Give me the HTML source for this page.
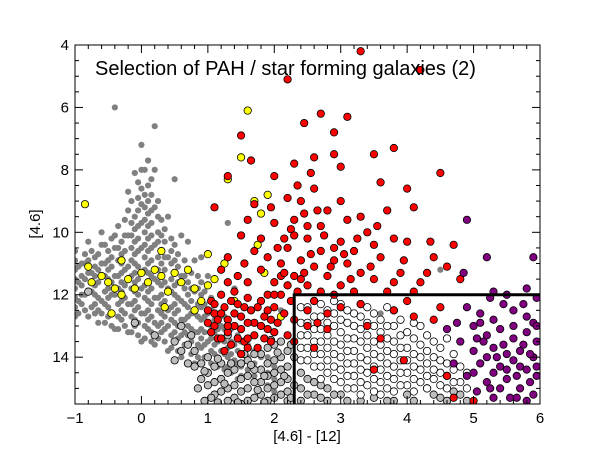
<!DOCTYPE html>
<html><head><meta charset="utf-8"><style>
body{margin:0;background:#fff;}
svg{display:block;font-family:"Liberation Sans","DejaVu Sans",sans-serif;}
</style></head><body>
<svg id="chart" width="600" height="450" viewBox="0 0 600 450" xmlns="http://www.w3.org/2000/svg">
<defs><clipPath id="clip"><rect x="75" y="45" width="465" height="359"/></clipPath></defs>
<g id="marks" clip-path="url(#clip)"></g>
<g id="axes"></g>
<text x="95" y="75" font-size="20">Selection of PAH / star forming galaxies (2)</text>
<text x="307" y="441" font-size="15" text-anchor="middle">[4.6] - [12]</text>
<text x="40" y="224" font-size="15" text-anchor="middle" transform="rotate(-90 40 224)">[4.6]</text>
</svg>
<script>
const xTicks=[-1,0,1,2,3,4,5,6];
const yTicks=[4,6,8,10,12,14];
const grayCols=[[-1,[10.9,11.2,11.5,11.8,12.1,12.4]],[-0.9,[11.0,11.4,11.7,12.0,12.3]],[-0.8,[10.3,11.3,11.9]],[-0.7,[10.8,11.1,11.4,11.7,12.0,12.3,12.6]],[-0.6,[10.0,11.0,12.2]],[-0.5,[10.6,10.9,11.2,11.5,11.8,12.1,12.4,12.7]],[-0.4,[6.0,10.5,11.4,12.0]],[-0.3,[10.3,10.7,11.0,11.3,11.6,11.9,12.2,12.5,12.8]],[-0.2,[9.3,10.1,11.1,12.3]],[-0.1,[8.1,9.5,9.9,10.3,10.7,11.0,11.3,11.6,11.9,12.2,12.5,12.8,13.0]],[0,[7.2,8.6,9.1,9.7,10.5,11.8,12.6]],[0.1,[7.7,8.5,9.0,9.4,9.8,10.2,10.6,11.0,11.3,11.6,11.9,12.2,12.5,12.8,13.1]],[0.2,[6.6,9.2,10.4,11.5,12.1,12.9]],[0.3,[9.6,10.1,10.6,11.0,11.4,11.7,12.0,12.3,12.6,12.9,13.2]],[0.4,[10.8,11.8,12.5,13.0]],[0.5,[8.3,10.4,10.9,11.3,11.7,12.0,12.3,12.6,12.9,13.2,13.5]],[0.6,[11.4,12.2,12.8,13.3]],[0.7,[10.3,11.2,11.6,12.0,12.4,12.7,13.0,13.3,13.6]],[0.8,[11.9,12.6,13.2]],[0.9,[10.8,11.6,12.0,12.4,12.8,13.1,13.4,13.7]],[1.0,[11.4,12.6,13.5]],[1.1,[12.3,12.8,13.2,13.6,13.9]],[1.2,[13.0,13.8]],[1.3,[9.7,12.8,13.3,13.7,14.0,14.3]],[1.4,[11.8,13.6,14.1]],[1.5,[13.5,13.9,14.3,14.6]],[1.7,[13.8,14.2,14.6]],[1.9,[14.0,14.5,14.9]],[2.1,[12.5]],[3.6,[12.6]],[4.5,[11.2]],
[-0.95,[11.1,11.6,12.2,12.6]],[-0.85,[10.7,11.0,11.5,12.0,12.5]],[-0.75,[10.6,11.3,11.9,12.4]],[-0.65,[10.7,11.2,11.6,12.1,12.5,12.9]],[-0.55,[10.4,11.0,11.4,11.9,12.3,12.9]],[-0.45,[10.2,10.8,11.1,11.6,12.0,12.6,13.0]],[-0.35,[9.8,10.5,10.9,11.4,11.8,12.3,12.7,13.1]],[-0.25,[9.6,10.1,10.6,11.2,11.7,12.1,12.6,13.0]],[-0.15,[9.0,9.7,10.1,10.5,10.9,11.4,11.8,12.3,12.7,13.2]],[-0.05,[8.4,8.9,9.3,9.8,10.2,10.6,11.1,11.5,12.0,12.4,12.9,13.3]],[0.05,[8.0,8.8,9.2,9.6,10.0,10.4,10.8,11.2,11.7,12.1,12.6,13.0,13.4]],[0.15,[8.3,8.8,9.3,9.7,10.1,10.5,10.9,11.4,11.8,12.3,12.7,13.2,13.5]],[0.25,[9.0,9.5,10.0,10.3,10.8,11.2,11.6,12.1,12.5,13.0,13.4]],[0.35,[9.9,10.3,10.8,11.2,11.6,12.2,12.7,13.1,13.5]],[0.45,[10.2,10.6,11.0,11.5,11.9,12.4,12.8,13.3,13.7]],[0.55,[10.7,11.1,11.6,12.1,12.5,13.0,13.4,13.8]],[0.65,[10.9,11.4,11.8,12.3,12.8,13.2,13.6]],[0.75,[11.3,11.8,12.2,12.6,13.1,13.5,13.9]],[0.85,[11.4,11.8,12.3,12.7,13.2,13.6,14.0]],[0.95,[11.9,12.3,12.7,13.2,13.6,14.0]],[1.05,[12.1,12.5,13.0,13.4,13.8,14.2]],[1.15,[12.6,13.1,13.5,14.0,14.3]],[1.25,[12.7,13.1,13.5,13.9,14.4]],[1.35,[13.1,13.5,13.9,14.5]],[1.45,[13.3,13.8,14.2,14.7]],[1.6,[13.6,14.0,14.4]],[1.8,[14.0,14.4,14.8]],[2.0,[14.3,14.7,15.1]],
[-1,[10.6,12.7]],[-0.8,[10.9,12.7]],[-0.6,[10.4,12.6]],[-0.4,[10.1,13.1]],[-0.2,[8.7,13.2]],[0,[8.0,13.5]],[0.2,[8.0,13.6]],[0.4,[9.5,13.8]],[0.6,[10.1,14.0]],[0.8,[10.9,14.2]]];
const ltGrayPts=[[-0.8,11.9],[-0.1,12.9],[0.2,13.3],[0.6,13.0],[0.75,13.3],[0.5,13.5],[0.5,14.1],[0.8,13.8],[0.8,14.3],[1.0,14.0],[1.0,14.5],[1.0,14.9],[1.2,14.2],[1.2,14.7],[1.2,15.1],[1.3,13.3],[1.4,14.4],[1.4,14.9],[1.4,15.3],[1.6,14.1],[1.6,14.6],[1.6,15.0],[1.6,15.4],[1.8,13.9],[1.8,14.4],[1.8,14.8],[1.8,15.2],[2.0,13.6],[2.0,14.1],[2.0,14.5],[2.0,14.9],[2.0,15.3],[2.2,13.8],[2.2,14.3],[2.2,14.7],[2.2,15.1],[2.2,15.4],[2.4,14.5],[2.4,15.0],[2.4,15.4],[2.6,14.8],[2.6,15.2],[2.8,15.0],[2.8,15.4],[3.0,15.2],[3.3,15.4],[3.5,15.3],[3.8,15.4],[4.0,15.2],[4.3,15.0],[4.5,15.3],[4.7,15.1],
[0.6,13.8],[0.7,13.6],[0.7,14.2],[0.9,14.2],[0.9,14.7],[1.1,14.3],[1.1,14.8],[1.1,15.2],[1.3,14.5],[1.3,15.0],[1.3,15.4],[1.5,14.2],[1.5,14.7],[1.5,15.1],[1.5,15.5],[1.7,13.9],[1.7,14.4],[1.7,14.8],[1.7,15.3],[1.9,13.7],[1.9,14.2],[1.9,14.6],[1.9,15.0],[1.9,15.4],[2.1,13.5],[2.1,14.0],[2.1,14.4],[2.1,14.8],[2.1,15.2],[2.3,14.0],[2.3,14.9],[2.5,14.7],[2.5,15.2],[2.7,14.9],[2.7,15.3],[2.9,15.2],[3.1,15.4],[3.7,15.4],[4.1,15.4],[4.4,15.2],[4.6,15.4],[4.8,15.2],[4.9,15.4],
[0.95,14.45],[1.05,15.3],[1.15,14.05],[1.25,14.85],[1.35,14.2],[1.45,15.45],[1.55,13.9],[1.65,14.25],[1.75,15.05],[1.85,14.6],[1.95,13.45],[2.05,13.85],[2.15,14.6],[2.25,13.6],[2.25,15.3],[1.85,15.45],[0.85,15.0],[0.95,15.4],[1.15,15.45]];
const whiteCols=[[2.4,[12.4,12.9,13.3,13.7,14.1]],[2.6,[12.2,12.7,13.1,13.5,13.9,14.3]],[2.8,[12.5,12.9,13.3,13.7,14.1,14.5]],[3.0,[12.3,12.8,13.2,13.6,14.0,14.4,14.8]],[3.2,[12.6,13.0,13.4,13.8,14.2,14.6,15.0]],[3.4,[12.4,12.9,13.3,13.7,14.1,14.5,14.9]],[3.6,[12.8,13.2,13.6,14.0,14.4,14.8,15.2]],[3.8,[12.5,13.0,13.5,13.9,14.3,14.7,15.1]],[4.0,[13.2,13.7,14.1,14.5,14.9]],[4.2,[13.0,13.6,14.0,14.4,14.8]],[4.4,[13.5,14.0,14.4,14.7]],[4.6,[13.4,14.2,14.6,15.0]],[4.8,[14.3,14.8]],
[2.5,[12.4,12.9,13.3,13.7,14.1]],[2.7,[12.3,12.7,13.1,13.5,13.9,14.3,14.7]],[2.9,[12.2,12.6,13.0,13.5,13.9,14.3,14.7]],[3.1,[12.5,12.9,13.4,13.8,14.2,14.6,15.0]],[3.3,[12.3,12.7,13.1,13.5,14.0,14.4,14.8,15.2]],[3.5,[12.6,13.0,13.5,13.9,14.3,14.7,15.1]],[3.7,[12.4,13.0,13.4,13.8,14.2,14.6,15.0]],[3.9,[12.8,13.3,13.7,14.1,14.5,14.9]],[4.1,[12.9,13.4,13.9,14.3,14.7,15.1]],[4.3,[13.3,13.8,14.2,14.6,15.0]],[4.5,[13.7,14.1,14.5,14.9]],[4.7,[13.9,14.4,14.8]],[4.9,[14.5,15.0]]];
const yellowPts=[[-0.85,9.1],[-0.75,11.6],[-0.8,11.1],[-0.6,11.4],[-0.4,11.8],[-0.5,11.6],[-0.3,12.0],[-0.2,11.5],[-0.1,11.8],[0,11.3],[0.1,11.6],[0.2,11.2],[0.3,11.4],[0.4,11.9],[0.5,11.3],[0.6,11.6],[0.7,11.2],[0.8,11.8],[0.9,12.2],[1.0,11.7],[1.1,11.5],[-0.3,10.9],[0.3,10.6],[1.0,10.7],[1.3,8.3],[1.6,6.1],[1.5,7.6],[1.8,9.4],[1.7,9.0],[1.75,10.4],[1.9,8.8],[1.85,11.3],[2.1,12.7],[1.4,12.2],[1.25,11.0],[-0.45,12.6],[0.35,12.4],[0.8,12.5]];
const redPts=[[1.05,12.2],[1.1,12.6],[1.1,13.0],[1.15,13.4],[1.25,12.4],[1.3,12.8],[1.3,13.2],[1.35,13.6],[1.45,12.3],[1.5,12.7],[1.5,13.1],[1.55,13.5],[1.65,12.5],[1.7,12.9],[1.7,13.3],[1.8,12.2],[1.85,12.7],[1.9,13.1],[1.95,13.5],[2.0,12.4],[2.05,12.9],[1.2,12.0],[1.4,11.9],[1.6,12.1],[1.0,12.9],[2.2,13.3],[1.75,13.7],[2.15,12.6],[1.6,11.6],[1.8,11.2],[2.0,11.6],[2.1,11.0],[2.2,10.5],[2.3,11.4],[2.4,10.9],[2.5,10.2],[2.5,11.7],[2.6,11.1],[2.7,10.6],[2.7,9.8],[2.8,11.4],[2.9,10.9],[3.0,10.3],[3.0,11.7],[3.1,11.0],[3.2,10.6],[3.3,11.3],[3.4,10.0],[3.5,11.5],[3.6,10.8],[2.3,9.6],[2.4,9.0],[2.6,8.6],[2.2,8.9],[2.0,9.7],[1.8,10.2],[1.9,10.8],[2.1,12.0],[2.35,11.9],[2.6,12.2],[2.9,12.0],[3.2,11.9],[2.45,9.4],[2.55,8.1],[2.8,9.3],[3.0,9.0],[1.5,10.1],[1.7,9.1],[1.55,11.0],[1.3,11.6],[1.2,11.2],[1.3,10.8],[2.8,12.6],[3.9,11.3],[4.0,10.3],[4.2,11.6],[3.7,11.9],[4.6,11.1],[4.4,10.8],[3.8,10.2],[4.3,11.3],[4.8,11.5],[3.3,12.3],[3.8,12.5],[4.0,12.2],[4.5,12.4],[4.4,12.8],[3.6,13.4],[3.4,13.0],[2.5,13.0],[2.8,13.1],[2.6,13.7],[2.3,13.5],[1.6,9.6],[1.1,9.2],[1.3,8.2],[1.5,6.9],[2.3,7.8],[2.6,7.6],[2.9,7.5],[3.0,7.9],[3.6,8.4],[4.0,8.6],[4.5,8.1],[3.1,6.3],[2.9,6.8],[2.2,5.1],[2.7,6.2],[3.3,4.2],[4.2,4.8],[3.5,7.5],[3.8,7.3],[4.1,9.2],[4.7,10.4],[3.3,9.5],[3.7,9.3],[2.0,8.2],[2.45,6.5],[1.65,7.7],[2.25,9.9],[3.95,14.1],[4.6,14.6],[4.7,15.3],[5.0,15.4],[3.5,14.4],[1.9,12.0],[2.15,10.2],[2.7,11.9],[3.5,10.4],[4.1,12.7],[1.15,12.8],[1.4,13.0],[1.6,13.4],[1.9,12.5],[2.25,12.2],[2.45,11.3],[2.9,10.5],[2.1,11.4],
[1.0,12.5],[1.05,13.2],[1.2,12.6],[1.2,13.4],[1.35,12.2],[1.4,12.6],[1.45,13.4],[1.6,12.9],[1.6,13.7],[1.75,12.4],[1.8,13.0],[1.85,13.4],[2.0,13.2],[2.0,12.0],[1.25,13.8],[1.5,13.9],[1.1,12.3],[1.55,12.4],[1.95,12.8],[1.3,13.0],
[2.3,10.1],[2.4,11.5],[2.55,10.7],[2.65,9.3],[2.75,10.1],[2.85,11.1],[3.05,10.7],[3.15,11.5],[3.25,10.2],[3.45,11.1],[3.55,9.8],[2.2,11.7],[2.05,10.5],[1.95,9.2],[2.35,8.5],[2.5,9.8],[3.1,9.6],[3.8,11.6],[4.1,11.9],[4.35,10.3],[3.95,10.9],[2.5,12.5],[3.0,12.4],[2.15,11.3],[1.7,10.6],[1.45,11.4],[2.3,12.8],[2.65,12.9]];
const purplePts=[[4.9,9.6],[5.2,10.8],[5.9,10.8],[4.85,11.3],[5.3,11.9],[5.5,12.0],[5.8,11.8],[5.95,12.1],[4.9,12.4],[5.1,12.6],[5.3,12.8],[5.6,12.5],[5.8,12.7],[5.0,13.0],[5.2,13.3],[5.4,13.1],[5.6,13.4],[5.8,13.2],[5.95,13.5],[4.8,13.5],[5.0,13.8],[5.3,13.7],[5.5,13.9],[5.7,13.8],[5.9,14.0],[5.1,14.2],[5.4,14.3],[5.6,14.1],[5.8,14.4],[5.95,14.6],[4.9,14.6],[5.2,14.8],[5.5,14.7],[5.7,15.0],[5.9,15.2],[5.3,15.3],[4.7,14.2],[4.6,13.1],[5.45,12.3],[5.75,13.6],[5.85,14.8],[5.35,14.0],[5.15,13.5],[5.65,14.6],[5.05,15.1],[4.75,12.9],[5.55,15.3],[5.25,12.1],
[5.1,12.9],[5.3,14.5],[5.45,13.6],[5.6,13.0],[5.7,14.3],[5.85,13.9],[5.95,14.3],[5.2,14.0],[5.0,14.5],[5.4,15.0],[5.65,15.3],[5.8,15.4],[5.9,12.9],[5.75,12.3],[5.05,13.4],[5.5,14.4],[5.25,15.0],[5.95,13.0]];
const boxCorner=[2.3,12];

const X0=75,X1=540,Y0=45,Y1=404,xmin=-1,xmax=6,ymin=4,ymax=15.5;
const sx=v=>X0+(v-xmin)*(X1-X0)/(xmax-xmin);
const sy=v=>Y0+(v-ymin)*(Y1-Y0)/(ymax-ymin);
const NS='http://www.w3.org/2000/svg';
const marks=document.getElementById('marks'),axes=document.getElementById('axes');
function mk(tag,parent){const e=document.createElementNS(NS,tag);parent.appendChild(e);return e;}
function dot(x,y){const c=mk('circle',marks);c.setAttribute('cx',sx(x));c.setAttribute('cy',sy(y));c.setAttribute('r',3.1);c.setAttribute('fill','#808080');

}
function dia(x,y,fill,name){const c=mk('circle',marks);c.setAttribute('cx',sx(x));c.setAttribute('cy',sy(y));c.setAttribute('r',3.7);
c.setAttribute('fill',fill);c.setAttribute('stroke','#000');c.setAttribute('stroke-width','0.8');

}
grayCols.forEach(c=>c[1].forEach(y=>dot(c[0],y)));
ltGrayPts.forEach(p=>dia(p[0],p[1],'#bdbdbd','light-gray-point'));
whiteCols.forEach(c=>c[1].forEach(y=>dia(c[0],y,'#ffffff','white-point')));
yellowPts.forEach(p=>dia(p[0],p[1],'#ffff00','yellow-point'));
redPts.forEach(p=>dia(p[0],p[1],'#ff0000','red-point'));
purplePts.forEach(p=>dia(p[0],p[1],'#800080','purple-point'));
const box=mk('polyline',marks);
box.setAttribute('points',`${sx(boxCorner[0])},${Y1} ${sx(boxCorner[0])},${sy(boxCorner[1])} ${X1},${sy(boxCorner[1])}`);
box.setAttribute('fill','none');box.setAttribute('stroke','#000');box.setAttribute('stroke-width','3');


function line(x1,y1,x2,y2,w){const l=mk('line',axes);l.setAttribute('x1',x1);l.setAttribute('y1',y1);l.setAttribute('x2',x2);l.setAttribute('y2',y2);l.setAttribute('stroke','#000');l.setAttribute('stroke-width',w||1);

}
for(let v=xmin;v<=xmax+1e-9;v+=0.2){const major=Math.abs(v-Math.round(v))<1e-6;const L=major?8:4;const px=sx(v);line(px,Y1,px,Y1-L);line(px,Y0,px,Y0+L);}
for(let v=ymin;v<=ymax+1e-9;v+=0.5){const major=Math.abs(v/2-Math.round(v/2))<1e-6;const L=major?8:4;const py=sy(v);line(X0,py,X0+L,py);line(X1,py,X1-L,py);}
xTicks.forEach(v=>{const t=mk('text',axes);t.setAttribute('x',sx(v));t.setAttribute('y',Y1+19);t.setAttribute('font-size','15');t.setAttribute('text-anchor','middle');t.textContent=v<0?'\u2212'+(-v):v;

});
yTicks.forEach(v=>{const t=mk('text',axes);t.setAttribute('x',X0-6);t.setAttribute('y',sy(v)+5);t.setAttribute('font-size','15');t.setAttribute('text-anchor','end');t.textContent=v;

});
const fr=mk('rect',axes);fr.setAttribute('x',X0);fr.setAttribute('y',Y0);fr.setAttribute('width',X1-X0);fr.setAttribute('height',Y1-Y0);fr.setAttribute('fill','none');fr.setAttribute('stroke','#000');


</script>
</body></html>
